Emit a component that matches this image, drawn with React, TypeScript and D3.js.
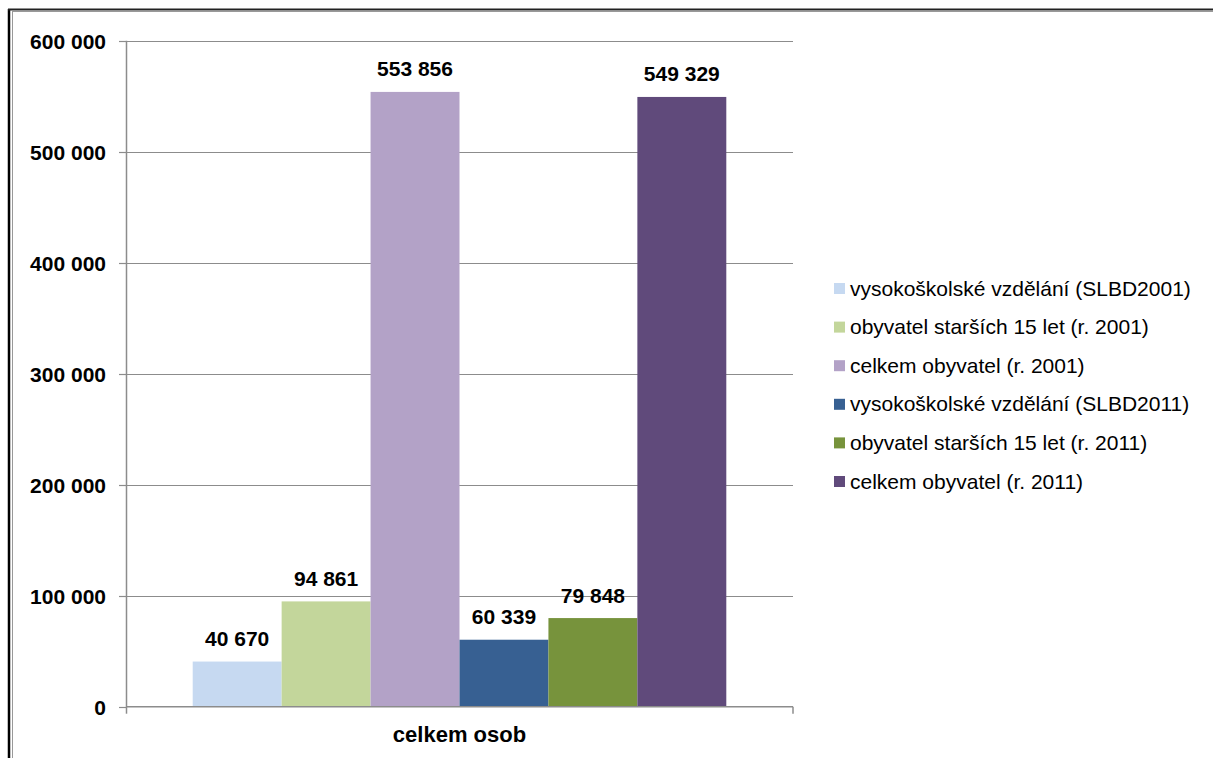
import React, { useEffect, useRef } from 'react';
import * as d3 from 'd3';

const categories = ['celkem osob'];
const seriesNames = [
  'vysokoškolské vzdělání (SLBD2001)',
  'obyvatel starších 15 let (r. 2001)',
  'celkem obyvatel (r. 2001)',
  'vysokoškolské vzdělání (SLBD2011)',
  'obyvatel starších 15 let (r. 2011)',
  'celkem obyvatel (r. 2011)',
];
const seriesValues = [40670, 94861, 553856, 60339, 79848, 549329];
const seriesColors = ['#C6D9F1', '#C3D69B', '#B3A2C7', '#376092', '#77933C', '#604A7B'];
const yTicks = [0, 100000, 200000, 300000, 400000, 500000, 600000];

const W = 1213;
const H = 758;
const FONT = '"Liberation Sans", Arial, sans-serif';

const fmt = (v: number) => d3.format(',')(v).replace(/,/g, ' ');

export default function App() {
  const svgRef = useRef<SVGSVGElement>(null);

  useEffect(() => {
    const svg = d3.select(svgRef.current);
    svg.selectAll('*').remove();

    // frame
    svg.append('line').attr('x1', 9).attr('x2', 9).attr('y1', 9).attr('y2', H)
      .attr('stroke', '#000').attr('stroke-width', 2.5);
    svg.append('line').attr('x1', 8).attr('x2', W).attr('y1', 9.5).attr('y2', 9.5)
      .attr('stroke', '#222').attr('stroke-width', 2);
    svg.append('line').attr('x1', 12.5).attr('x2', 12.5).attr('y1', 11).attr('y2', H)
      .attr('stroke', '#999').attr('stroke-width', 1);
    svg.append('line').attr('x1', 12).attr('x2', W).attr('y1', 11.5).attr('y2', 11.5)
      .attr('stroke', '#999').attr('stroke-width', 1);

    const left = 126, right = 793, top = 40.7, bottom = 706.7;

    const y = d3.scaleLinear().domain([0, 600000]).range([bottom, top]);
    const x0 = d3.scaleBand().domain(categories).range([left, right])
      .paddingInner(0).paddingOuter(0.125);
    const x1 = d3.scaleBand().domain(seriesNames).range([0, x0.bandwidth()]).padding(0);

    const g = svg.append('g');

    // gridlines
    g.selectAll('.grid').data(yTicks.filter(t => t > 0)).enter().append('line')
      .attr('x1', left).attr('x2', right)
      .attr('y1', d => Math.round(y(d)) + 0.5).attr('y2', d => Math.round(y(d)) + 0.5)
      .attr('stroke', '#8c8c8c').attr('stroke-width', 1.2);

    // bars
    categories.forEach(cat => {
      const gx = x0(cat) as number;
      seriesNames.forEach((s, i) => {
        const v = seriesValues[i];
        g.append('rect')
          .attr('x', gx + (x1(s) as number))
          .attr('y', y(v))
          .attr('width', x1.bandwidth())
          .attr('height', y(0) - y(v))
          .attr('fill', seriesColors[i]);
        g.append('text')
          .attr('x', gx + (x1(s) as number) + x1.bandwidth() / 2)
          .attr('y', y(v) - 15.5)
          .attr('text-anchor', 'middle')
          .attr('font-family', FONT).attr('font-weight', 'bold').attr('font-size', 21)
          .attr('fill', '#000')
          .text(fmt(v));
      });
    });

    // y axis
    g.append('line').attr('x1', left + 0.5).attr('x2', left + 0.5).attr('y1', top).attr('y2', bottom)
      .attr('stroke', '#8c8c8c').attr('stroke-width', 1.5);
    yTicks.forEach(t => {
      const ty = Math.round(y(t)) + 0.5;
      g.append('line').attr('x1', left - 7).attr('x2', left).attr('y1', ty).attr('y2', ty)
        .attr('stroke', '#8c8c8c').attr('stroke-width', 1.2);
      g.append('text').attr('x', 106).attr('y', ty + 7)
        .attr('text-anchor', 'end')
        .attr('font-family', FONT).attr('font-weight', 'bold').attr('font-size', 21)
        .text(fmt(t));
    });

    // x axis
    g.append('line').attr('x1', left).attr('x2', right).attr('y1', bottom).attr('y2', bottom)
      .attr('stroke', '#8c8c8c').attr('stroke-width', 1.5);
    [left + 0.5, right].forEach(tx => {
      g.append('line').attr('x1', tx).attr('x2', tx).attr('y1', bottom).attr('y2', bottom + 7)
        .attr('stroke', '#8c8c8c').attr('stroke-width', 1.5);
    });
    categories.forEach(cat => {
      g.append('text')
        .attr('x', (x0(cat) as number) + x0.bandwidth() / 2)
        .attr('y', 742)
        .attr('text-anchor', 'middle')
        .attr('font-family', FONT).attr('font-weight', 'bold').attr('font-size', 22)
        .text(cat);
    });

    // legend
    const legend = svg.append('g').attr('transform', 'translate(834,288)');
    seriesNames.forEach((s, i) => {
      const ly = i * 38.6;
      legend.append('rect').attr('x', 0).attr('y', ly - 5).attr('width', 11).attr('height', 11)
        .attr('fill', seriesColors[i]);
      legend.append('text').attr('x', 16).attr('y', ly + 7.5)
        .attr('font-family', FONT).attr('font-size', 21).attr('fill', '#000')
        .text(s);
    });
  }, []);

  return (
    <svg
      ref={svgRef}
      width={W}
      height={H}
      style={{ position: 'absolute', left: 0, top: 0, background: '#fff', display: 'block' }}
    />
  );
}
